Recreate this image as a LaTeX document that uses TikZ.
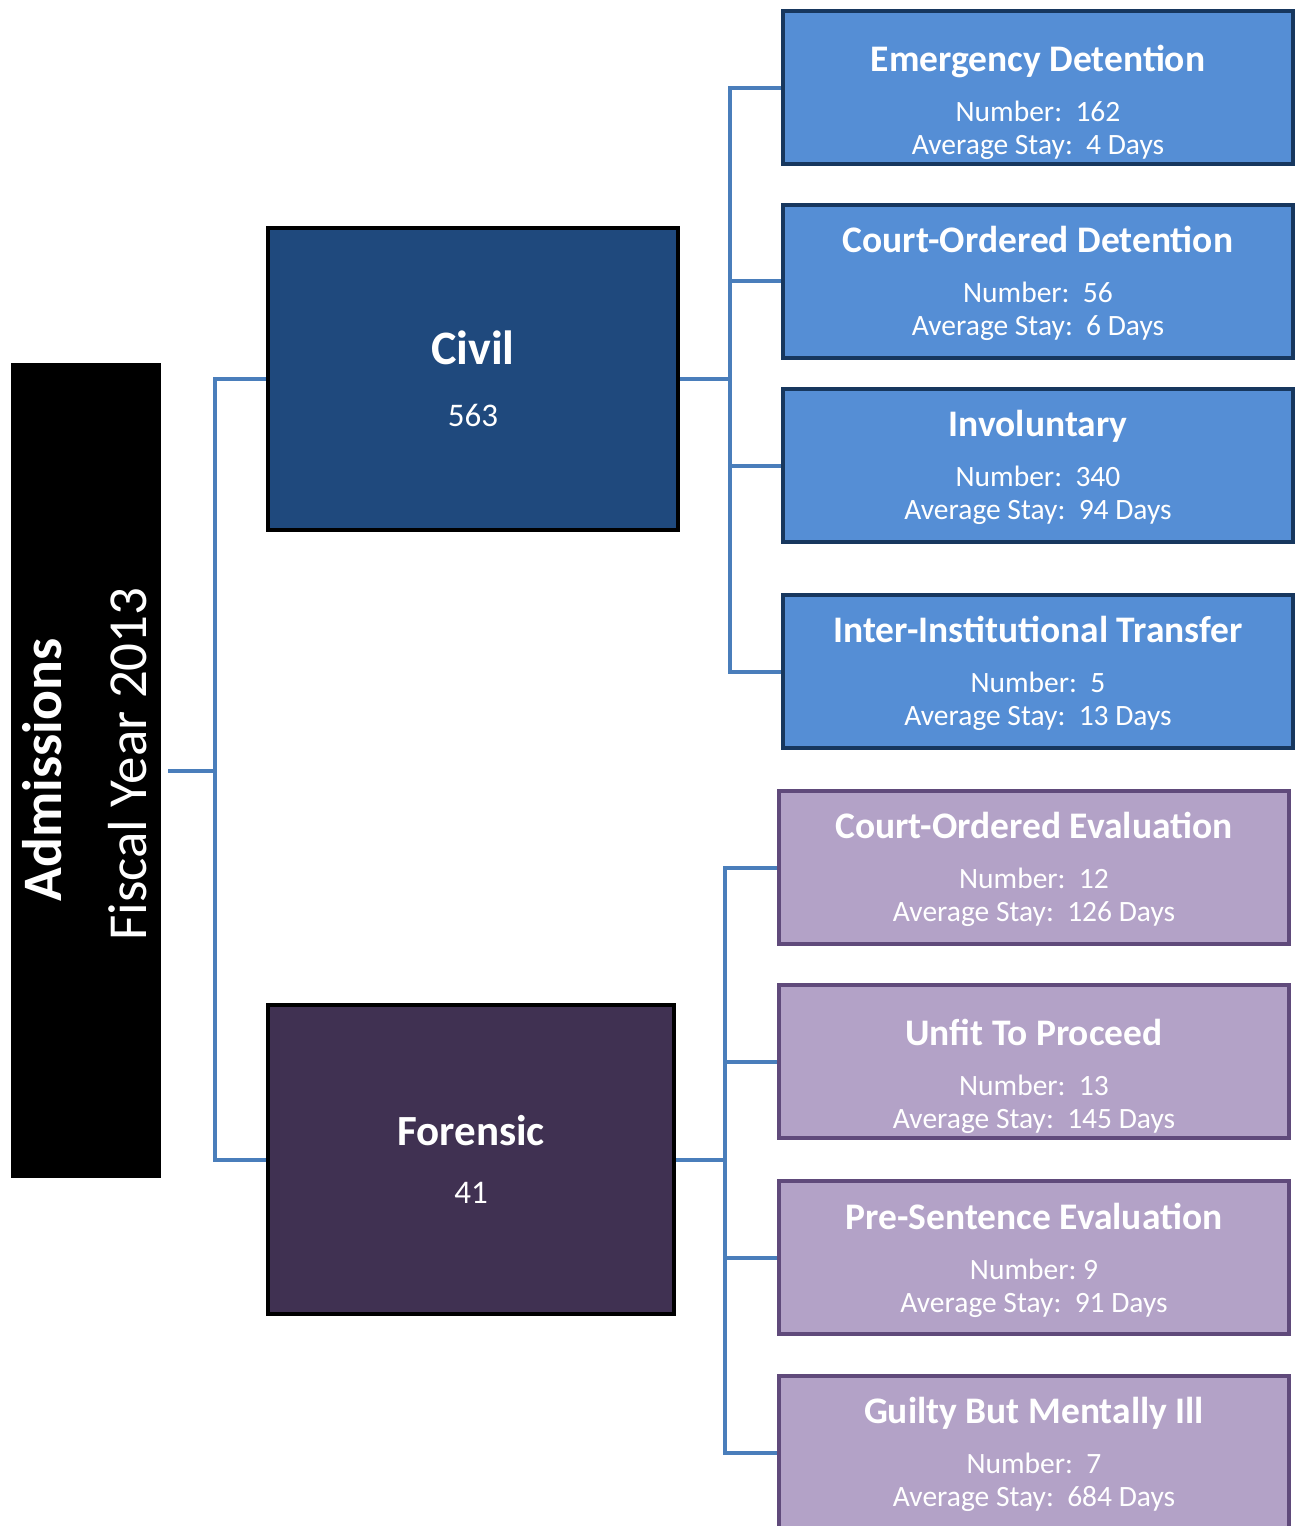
\documentclass[tikz,border=0pt]{standalone}
\usepackage{fontspec}
\setmainfont{Carlito}
\usetikzlibrary{backgrounds}

\definecolor{connblue}{HTML}{4A7EBB}
\definecolor{civilfill}{HTML}{1F497D}
\definecolor{forensicfill}{HTML}{403152}
\definecolor{leafblue}{HTML}{558ED5}
\definecolor{leafblueline}{HTML}{17375E}
\definecolor{leafpurple}{HTML}{B3A2C7}
\definecolor{leafpurpleline}{HTML}{604A7B}

\newcommand{\leaftitle}[1]{{\fontsize{37.5}{40}\selectfont\bfseries #1}}
\newcommand{\grouptitle}[2]{{\fontsize{#1}{50}\selectfont\bfseries #2}}

\tikzset{
  conn/.style = {draw=connblue, line width=4pt},
  groupbox/.style = {draw=black, line width=4pt, text=white, align=center,
    minimum width=410pt, inner sep=0pt, font=\fontsize{33}{40}\selectfont},
  bluebox/.style = {draw=leafblueline, fill=leafblue, line width=4pt,
    minimum width=510pt, minimum height=153pt, inner sep=0pt},
  purplebox/.style = {draw=leafpurpleline, fill=leafpurple, line width=4pt,
    minimum width=510pt, minimum height=153pt, inner sep=0pt},
  leaftext/.style = {text=white, align=center, font=\fontsize{29.5}{33}\selectfont}
}

\begin{document}
\begin{tikzpicture}[x=1pt, y=-1pt]
    \useasboundingbox (0, 0) rectangle (1297, 1526);
    \clip (0, 0) rectangle (1297, 1526);
    % root
    \node[fill=black, minimum width=150pt, minimum height=815pt, inner sep=0pt] (Admissions) at (86, 770.5) {};
    \node[rotate=90, text=white, font=\fontsize{55.7}{60}\selectfont\bfseries] (Admissions Title) at (42, 770) {Admissions};
    \node[rotate=90, text=white, font=\fontsize{55}{60}\selectfont] (Fiscal Year) at (128, 764) {Fiscal Year 2013};
    % groups
    \node[groupbox, fill=civilfill, minimum height=302pt] (Civil) at (473, 378.5) {\grouptitle{48}{Civil}\\[22pt]563};
    \node[groupbox, fill=forensicfill, minimum width=406pt, minimum height=309pt] (Forensic) at (471, 1159.5) {\grouptitle{43}{Forensic}\\[18pt]41};
    % civil leaves
    \node[bluebox] (Emergency Detention) at (1038, 87.5) {};
    \node[bluebox] (Court-Ordered Detention) at (1038, 281) {};
    \node[bluebox] (Involuntary) at (1038, 465.5) {};
    \node[bluebox] (Inter-Institutional Transfer) at (1038, 671.5) {};
    \node[leaftext] (Emergency Detention Text) at (1038, 102) {\leaftitle{Emergency Detention}\\[17pt]Number:~~162\\Average Stay:~~4 Days};
    \node[leaftext] (Court-Ordered Detention Text) at (1038, 283) {\leaftitle{Court-Ordered Detention}\\[17pt]Number:~~56\\Average Stay:~~6 Days};
    \node[leaftext] (Involuntary Text) at (1038, 467) {\leaftitle{Involuntary}\\[17pt]Number:~~340\\Average Stay:~~94 Days};
    \node[leaftext] (Inter-Institutional Transfer Text) at (1038, 673) {\leaftitle{Inter-Institutional Transfer}\\[17pt]Number:~~5\\Average Stay:~~13 Days};
    % forensic leaves
    \node[purplebox] (Court-Ordered Evaluation) at (1034, 867.5) {};
    \node[purplebox] (Unfit To Proceed) at (1034, 1061.5) {};
    \node[purplebox] (Pre-Sentence Evaluation) at (1034, 1257.5) {};
    \node[purplebox] (Guilty But Mentally Ill) at (1034, 1452.5) {};
    \node[leaftext] (Court-Ordered Evaluation Text) at (1034, 869) {\leaftitle{Court-Ordered Evaluation}\\[17pt]Number:~~12\\Average Stay:~~126 Days};
    \node[leaftext] (Unfit To Proceed Text) at (1034, 1076) {\leaftitle{Unfit To Proceed}\\[17pt]Number:~~13\\Average Stay:~~145 Days};
    \node[leaftext] (Pre-Sentence Evaluation Text) at (1034, 1260) {\leaftitle{Pre-Sentence Evaluation}\\[17pt]Number:~9\\Average Stay:~~91 Days};
    \node[leaftext] (Guilty But Mentally Ill Text) at (1034, 1454) {\leaftitle{Guilty But Mentally Ill}\\[17pt]Number:~~7\\Average Stay:~~684 Days};
    % connectors
    \coordinate (Root Split) at (215, 770.5);
    \coordinate (Civil Split) at (730, 378.5);
    \coordinate (Forensic Split) at (725, 1159.5);
    \begin{scope}[on background layer]
      \draw[conn] ([xshift=7pt]Admissions.east) -- (Root Split);
      \draw[conn] (Root Split) |- (Civil);
      \draw[conn] (Root Split) |- (Forensic);
      \draw[conn] (Civil) -- (Civil Split);
      \draw[conn] (Civil Split) |- (Emergency Detention);
      \draw[conn] (Civil Split) |- (Court-Ordered Detention);
      \draw[conn] (Civil Split) |- (Involuntary);
      \draw[conn] (Civil Split) |- (Inter-Institutional Transfer);
      \draw[conn] (Forensic) -- (Forensic Split);
      \draw[conn] (Forensic Split) |- (Court-Ordered Evaluation);
      \draw[conn] (Forensic Split) |- (Unfit To Proceed);
      \draw[conn] (Forensic Split) |- (Pre-Sentence Evaluation);
      \draw[conn] (Forensic Split) |- (Guilty But Mentally Ill);
    \end{scope}
\end{tikzpicture}
\end{document}
